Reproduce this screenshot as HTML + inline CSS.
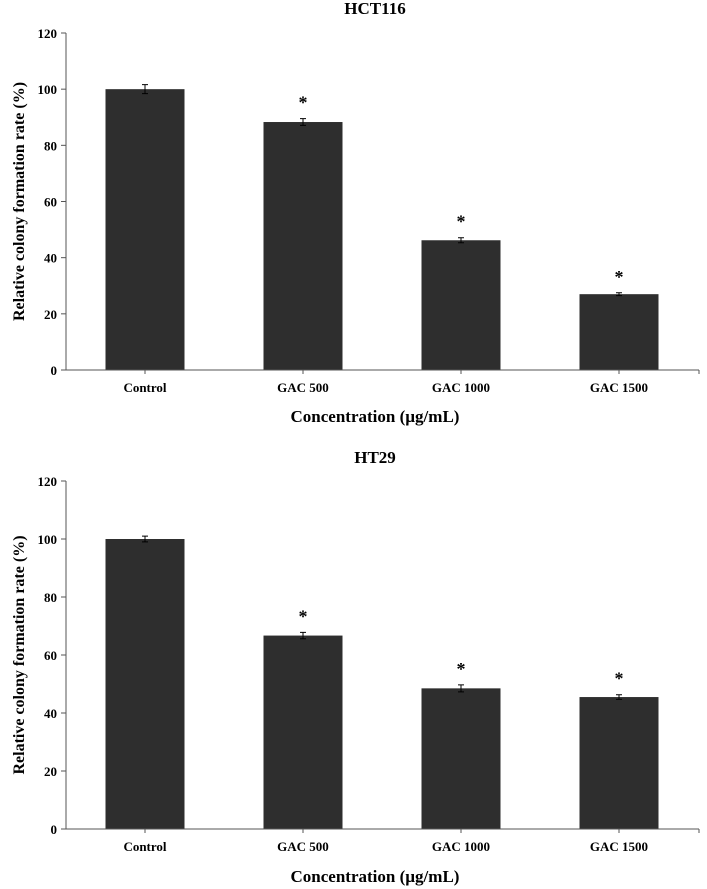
<!DOCTYPE html>
<html><head><meta charset="utf-8"><style>
body{margin:0;background:#fff;width:707px;height:889px;overflow:hidden}
svg{display:block;font-family:"Liberation Serif",serif}
</style></head><body>
<svg id="s" width="707" height="889"></svg>
<script>
const categories=["Control","GAC 500","GAC 1000","GAC 1500"];
const hctValues=[100,88.3,46.2,27];
const hctErrors=[1.6,1.2,0.9,0.5];
const hctStars=[false,true,true,true];
const ht29Values=[100,66.7,48.5,45.5];
const ht29Errors=[1,1.1,1.2,0.8];
const ht29Stars=[false,true,true,true];
const yTicks=[0,20,40,60,80,100,120];
const NS="http://www.w3.org/2000/svg";
const svg=document.getElementById("s");
function mk(t,a,p,txt){const e=document.createElementNS(NS,t);for(const k in a)e.setAttribute(k,a[k]);if(txt!==undefined)e.textContent=txt;(p||svg).appendChild(e);return e;}
function chart(id,title,titleY,y0,y120,vals,errs,stars,xLabY,xTitleY){
  const g=mk("g",{});
  
  
  const ax=66,axEnd=699;
  const y=v=>y0+(y120-y0)*v/120;
  const xc=i=>145+158*i;
  const t=mk("text",{x:375,y:titleY,"text-anchor":"middle","font-size":17,"font-weight":"bold"},g,title);
  
  
  yTicks.forEach(v=>{
    mk("line",{x1:ax-5,x2:ax,y1:y(v),y2:y(v),stroke:"#555"},g);
    const l=mk("text",{x:ax-9,y:y(v)+5,"text-anchor":"end","font-size":13,"font-weight":"bold"},g,v);
    
    
  });
  vals.forEach((v,i)=>{
    const b=mk("rect",{x:xc(i)-39.5,y:y(v),width:79,height:y(0)-y(v),fill:"#2e2e2e"},g);
    
    
    const e=errs[i],c=xc(i);
    mk("path",{d:`M${c},${y(v+e)}V${y(v-e)}M${c-3},${y(v+e)}H${c+3}M${c-3},${y(v-e)}H${c+3}`,stroke:"#000","stroke-width":1,fill:"none"},g);
    if(stars[i]){const s=mk("text",{x:c,y:y(v+e)-10,"text-anchor":"middle","font-size":18,"font-weight":"bold"},g,"*");
      
      }
    mk("line",{x1:c,x2:c,y1:y(0),y2:y(0)+4,stroke:"#555"},g);
    const xl=mk("text",{x:c,y:xLabY,"text-anchor":"middle","font-size":13,"font-weight":"bold"},g,categories[i]);
    
    
  });
  mk("line",{x1:ax,x2:ax,y1:y120,y2:y0,stroke:"#555"},g);
  mk("line",{x1:ax,x2:axEnd,y1:y0,y2:y0,stroke:"#555"},g);
  mk("line",{x1:axEnd,x2:axEnd,y1:y0,y2:y0+4,stroke:"#555"},g);
  const xt=mk("text",{x:375,y:xTitleY,"text-anchor":"middle","font-size":17,"font-weight":"bold"},g,"Concentration (µg/mL)");
  
  
  const my=(y0+y120)/2;
  const yt=mk("text",{x:24,y:my,"text-anchor":"middle","font-size":16,"font-weight":"bold",transform:`rotate(-90 24 ${my})`},g,"Relative colony formation rate (%)");
  
  
}
chart("hct116","HCT116",14,370,33,hctValues,hctErrors,hctStars,392,422);
chart("ht29","HT29",463,829,481,ht29Values,ht29Errors,ht29Stars,851,882);
</script>
</body></html>
